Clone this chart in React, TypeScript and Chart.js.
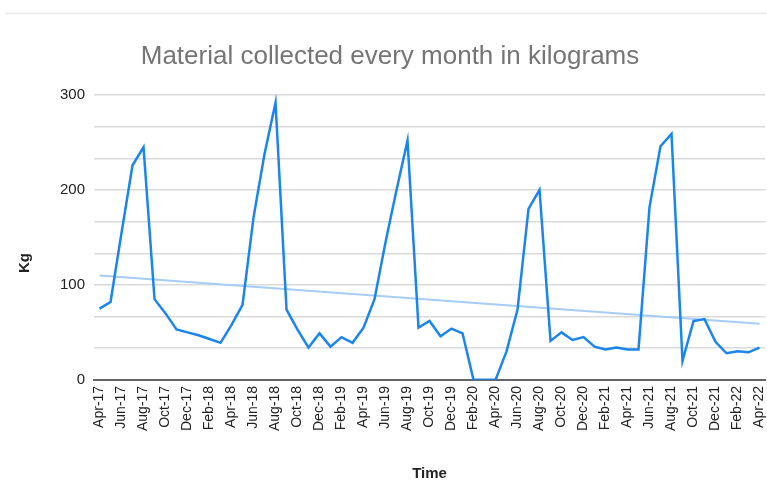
import React, { useEffect, useRef } from "react";
import { Chart, registerables } from "chart.js";

Chart.register(...registerables);

const monthLabels: string[] = [
  "Apr-17", "May-17", "Jun-17", "Jul-17", "Aug-17", "Sep-17", "Oct-17", "Nov-17", "Dec-17",
  "Jan-18", "Feb-18", "Mar-18", "Apr-18", "May-18", "Jun-18", "Jul-18", "Aug-18", "Sep-18", "Oct-18", "Nov-18", "Dec-18",
  "Jan-19", "Feb-19", "Mar-19", "Apr-19", "May-19", "Jun-19", "Jul-19", "Aug-19", "Sep-19", "Oct-19", "Nov-19", "Dec-19",
  "Jan-20", "Feb-20", "Mar-20", "Apr-20", "May-20", "Jun-20", "Jul-20", "Aug-20", "Sep-20", "Oct-20", "Nov-20", "Dec-20",
  "Jan-21", "Feb-21", "Mar-21", "Apr-21", "May-21", "Jun-21", "Jul-21", "Aug-21", "Sep-21", "Oct-21", "Nov-21", "Dec-21",
  "Jan-22", "Feb-22", "Mar-22", "Apr-22",
];

const kgValues: number[] = [
  75, 82, 155, 226, 245, 85, 70, 53, 50,
  47, 43, 39, 58, 79, 171, 238, 292, 74, 53, 34, 49,
  35, 45, 39, 55, 85, 145, 200, 252, 55, 62, 46, 54,
  49, 0, 0, 0, 30, 74, 180, 200, 41, 50, 42, 45,
  35, 32, 34, 32, 32, 182, 246, 259, 20, 62, 64, 40,
  28, 30, 29, 34,
];

const trendStart = 110;
const trendEnd = 59;

const yTickValues: number[] = [0, 100 / 3, 200 / 3, 100, 400 / 3, 500 / 3, 200, 700 / 3, 800 / 3, 300];
const yLabelValues: number[] = [0, 100, 200, 300];

const titleText = "Material collected every month in kilograms";
const xTitle = "Time";
const yTitle = "Kg";
const FONT = "'Liberation Sans', Arial, sans-serif";

const decorPlugin = {
  id: "decor",
  beforeDraw(chart: any) {
    const ctx = chart.ctx;
    ctx.save();
    ctx.strokeStyle = "#e8e8e8";
    ctx.lineWidth = 1.5;
    ctx.beginPath();
    ctx.moveTo(5, 13.5);
    ctx.lineTo(chart.width, 13.5);
    ctx.stroke();
    ctx.restore();
  },
  afterDraw(chart: any) {
    const ctx = chart.ctx;
    ctx.save();
    ctx.translate(25, 263);
    ctx.rotate(-Math.PI / 2);
    ctx.fillStyle = "#222";
    ctx.font = `bold 15px ${FONT}`;
    ctx.textAlign = "center";
    ctx.textBaseline = "middle";
    ctx.fillText(yTitle, 0, 0);
    ctx.restore();
  },
};

export default function App() {
  const ref = useRef<HTMLCanvasElement | null>(null);

  useEffect(() => {
    if (!ref.current) return;
    const trendData = monthLabels.map((_, i) =>
      i === 0 ? trendStart : i === monthLabels.length - 1 ? trendEnd : null
    );
    const chart = new Chart(ref.current, {
      type: "line",
      data: {
        labels: monthLabels,
        datasets: [
          {
            label: "Kg",
            data: kgValues,
            borderColor: "#1a85f0",
            borderWidth: 2.5,
            pointRadius: 0,
            tension: 0,
            order: 1,
          },
          {
            label: "Trend",
            data: trendData,
            borderColor: "#a6cdf7",
            borderWidth: 2,
            pointRadius: 0,
            spanGaps: true,
            order: 2,
          },
        ],
      },
      options: {
        responsive: false,
        animation: false,
        layout: { padding: { top: 30, right: -13, bottom: -2, left: 0 } },
        plugins: {
          legend: { display: false },
          tooltip: { enabled: false },
          title: {
            display: true,
            text: titleText,
            color: "#757575",
            font: { family: FONT, size: 26, weight: "normal" },
            padding: { top: 11.4, bottom: 22.4 },
          },
        },
        scales: {
          x: {
            offset: true,
            afterFit: (scale: any) => {
              scale.paddingRight = 2;
            },
            grid: { display: false, drawTicks: false },
            border: { display: true, color: "#666", width: 2 },
            ticks: {
              autoSkip: false,
              maxRotation: 90,
              minRotation: 90,
              padding: 6,
              color: "#222",
              font: { family: FONT, size: 14 },
              callback: (_v: any, i: number) => (i % 2 === 0 ? monthLabels[i] : ""),
            },
            title: {
              display: true,
              text: xTitle,
              color: "#222",
              font: { family: FONT, size: 15, weight: "bold" },
              padding: { top: 28, bottom: 0 },
            },
          },
          y: {
            min: 0,
            max: 300,
            afterBuildTicks: (scale: any) => {
              scale.ticks = yTickValues.map((v) => ({ value: v }));
            },
            grid: { color: "#dadada", lineWidth: 1.5, drawTicks: false },
            border: { display: false },
            ticks: {
              padding: 9,
              color: "#222",
              font: { family: FONT, size: 15 },
              callback: (v: any) => {
                const hit = yLabelValues.find((l) => Math.abs(l - v) < 0.01);
                return hit === undefined ? "" : String(hit);
              },
            },
            title: {
              display: true,
              text: yTitle,
              color: "rgba(0,0,0,0)",
              font: { family: FONT, size: 15, weight: "bold" },
              padding: { top: 22, bottom: 11 },
            },
          },
        },
      },
      plugins: [decorPlugin],
    });
    return () => chart.destroy();
  }, []);

  return (
    <div style={{ position: "fixed", left: 0, top: 0, width: 767, height: 481, background: "#fff" }}>
      <canvas ref={ref} width={767} height={481} />
    </div>
  );
}
